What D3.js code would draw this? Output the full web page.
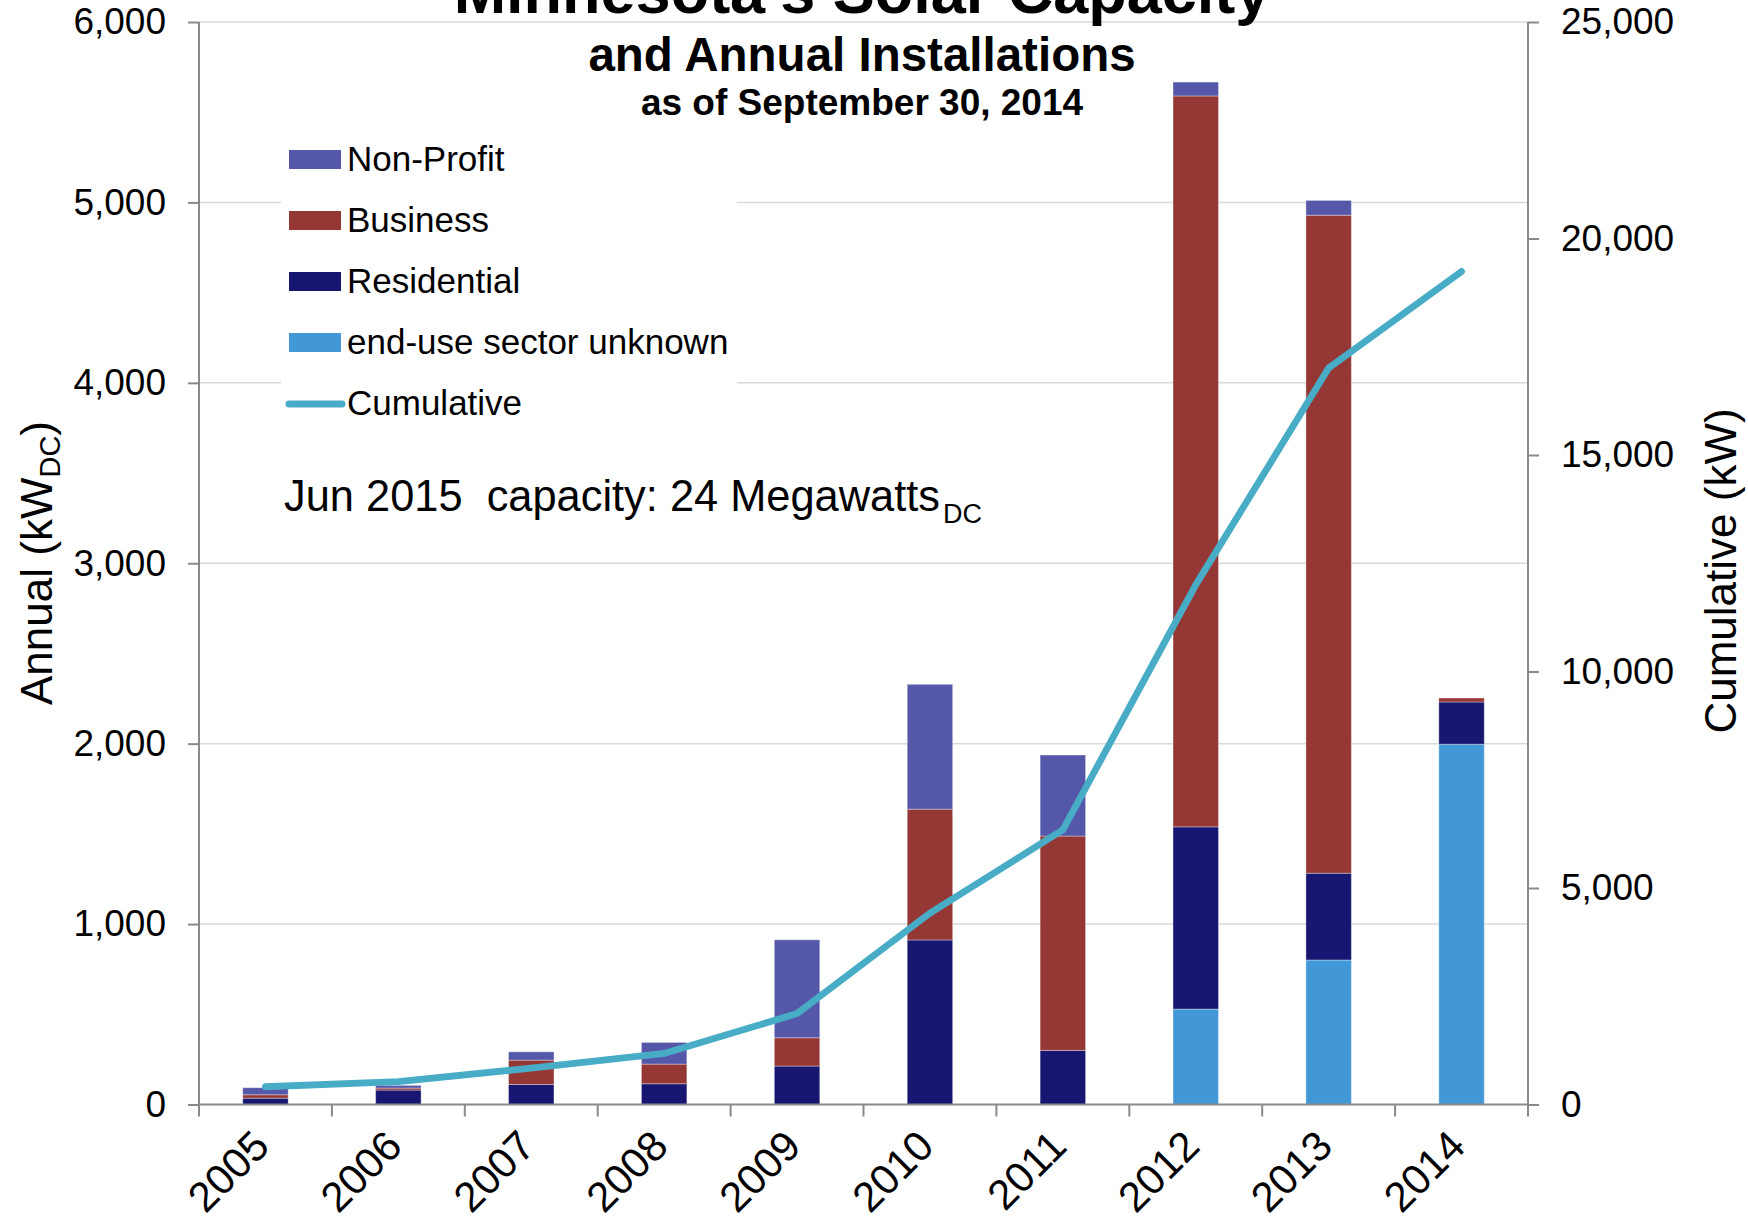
<!DOCTYPE html>
<html>
<head>
<meta charset="utf-8">
<script src="https://cdn.jsdelivr.net/npm/d3@7"></script>
<style>
  html, body { margin: 0; padding: 0; background: #fff; }
  svg { display: block; }
  text { font-family: "Liberation Sans", Arial, sans-serif; }
</style>
</head>
<body>
<svg id="chart" width="1748" height="1226"></svg>
<script>
// ---- data ----
const years = ["2005","2006","2007","2008","2009","2010","2011","2012","2013","2014"];
const unknownSector = [0, 0, 0, 0, 0, 0, 0, 529, 801, 1997];
const residential   = [35, 80, 111, 115, 213, 912, 300, 1010, 481, 234];
const business      = [19, 11, 135, 109, 157, 725, 1188, 4051, 3647, 22];
const nonProfit     = [39, 15, 46, 120, 543, 692, 449, 77, 82, 0];
const cumulative    = [410, 530, 840, 1180, 2100, 4420, 6340, 12000, 17010, 19240];
const leftTicks  = [0, 1000, 2000, 3000, 4000, 5000, 6000];
const rightTicks = [0, 5000, 10000, 15000, 20000, 25000];
const seriesKeys   = ["unknown", "residential", "business", "nonprofit"];
const seriesNames  = {nonprofit: "Non-Profit", business: "Business", residential: "Residential", unknown: "end-use sector unknown"};
const seriesColors = {nonprofit: "#5557A8", business: "#953735", residential: "#171670", unknown: "#4298D7"};
const lineColor = "#48ACC6";

const rows = years.map((y, i) => ({
  year: y, unknown: unknownSector[i], residential: residential[i],
  business: business[i], nonprofit: nonProfit[i], cum: cumulative[i]
}));

// ---- layout ----
const pLeft = 199, pRight = 1528, pTop = 22, pBottom = 1104.5;
const svg = d3.select("#chart");

const x = d3.scaleBand().domain(years).range([pLeft, pRight]).paddingInner(0.658).paddingOuter(0.329);
const yL = d3.scaleLinear().domain([0, 6000]).range([pBottom, pTop]);
const yR = d3.scaleLinear().domain([0, 25000]).range([pBottom, pTop]);

// gridlines
svg.append("g").selectAll("line").data(leftTicks.filter(d => d > 0)).join("line")
  .attr("x1", pLeft).attr("x2", pRight)
  .attr("y1", d => yL(d)).attr("y2", d => yL(d))
  .attr("stroke", "#d9d9d9").attr("stroke-width", 1.5);

// legend background (hides gridlines)
svg.append("rect").attr("x", 281).attr("y", 128).attr("width", 456).attr("height", 300).attr("fill", "#fff");

// stacked bars
const stack = d3.stack().keys(seriesKeys)(rows);
svg.append("g").selectAll("g").data(stack).join("g")
  .attr("fill", d => seriesColors[d.key])
  .selectAll("rect").data(d => d).join("rect")
  .attr("x", d => x(d.data.year))
  .attr("width", x.bandwidth())
  .attr("y", d => yL(d[1]))
  .attr("height", d => Math.max(0, yL(d[0]) - yL(d[1])))
  .attr("stroke", "rgba(255,255,255,0.35)").attr("stroke-width", d => (d[1] - d[0]) > 0 ? 1 : 0);

// cumulative line
const line = d3.line().x(d => x(d.year) + x.bandwidth() / 2).y(d => yR(d.cum));
svg.append("path").datum(rows).attr("d", line)
  .attr("fill", "none").attr("stroke", lineColor).attr("stroke-width", 6.8)
  .attr("stroke-linejoin", "round").attr("stroke-linecap", "round");

// axes
const axisColor = "#8a8a8a";
const leftAxis = svg.append("g").attr("transform", `translate(${pLeft},0)`)
  .call(d3.axisLeft(yL).tickValues(leftTicks).tickFormat(d3.format(",")).tickSize(11).tickPadding(22));
const rightAxis = svg.append("g").attr("transform", `translate(${pRight},0)`)
  .call(d3.axisRight(yR).tickValues(rightTicks).tickFormat(d3.format(",")).tickSize(11).tickPadding(22));
[leftAxis, rightAxis].forEach(a => {
  a.select(".domain").attr("stroke", axisColor).attr("stroke-width", 2).attr("d", `M0,${pTop}V${pBottom}`);
  a.selectAll(".tick line").attr("stroke", axisColor).attr("stroke-width", 2);
  a.selectAll(".tick text").attr("font-size", 37).attr("fill", "#000")
    .attr("font-family", "Liberation Sans, Arial, sans-serif");
});

// x axis line + boundary ticks
const xg = svg.append("g");
xg.append("line").attr("x1", pLeft).attr("x2", pRight).attr("y1", pBottom).attr("y2", pBottom)
  .attr("stroke", axisColor).attr("stroke-width", 2);
const boundaries = years.map(y => x(y) - x.step() * x.paddingInner() / 2).concat([pRight]);
xg.selectAll(".xt").data(boundaries).join("line").attr("class", "xt")
  .attr("x1", d => d).attr("x2", d => d).attr("y1", pBottom).attr("y2", pBottom + 12)
  .attr("stroke", axisColor).attr("stroke-width", 2);
xg.selectAll(".xl").data(years).join("text").attr("class", "xl")
  .attr("transform", d => `translate(${x(d) + x.bandwidth() / 2 + 6},${pBottom + 44}) rotate(-45)`)
  .attr("text-anchor", "end").attr("font-size", 42).text(d => d);

// titles
const cx = 862;
svg.append("text").attr("x", cx).attr("y", 13).attr("text-anchor", "middle")
  .attr("font-size", 63).attr("font-weight", "bold").text("Minnesota's Solar Capacity");
svg.append("text").attr("x", cx).attr("y", 71).attr("text-anchor", "middle")
  .attr("font-size", 47.5).attr("font-weight", "bold").text("and Annual Installations");
svg.append("text").attr("x", cx).attr("y", 115).attr("text-anchor", "middle")
  .attr("font-size", 37).attr("font-weight", "bold").text("as of September 30, 2014");

// axis titles
const lt = svg.append("text").attr("transform", "translate(52,563) rotate(-90)")
  .attr("text-anchor", "middle").attr("font-size", 44);
lt.append("tspan").text("Annual (kW");
lt.append("tspan").attr("font-size", 29).attr("dy", 8).text("DC");
lt.append("tspan").attr("dy", -8).text(")");
svg.append("text").attr("transform", "translate(1736,571) rotate(-90)")
  .attr("text-anchor", "middle").attr("font-size", 44).text("Cumulative (kW)");

// legend
const legendOrder = ["nonprofit", "business", "residential", "unknown"];
const lg = svg.append("g");
legendOrder.forEach((k, i) => {
  const yb = 171 + i * 61;
  lg.append("rect").attr("x", 289).attr("y", yb - 21).attr("width", 52).attr("height", 19).attr("fill", seriesColors[k]);
  lg.append("text").attr("x", 347).attr("y", yb).attr("font-size", 35).text(seriesNames[k]);
});
lg.append("line").attr("x1", 289).attr("x2", 342).attr("y1", 404).attr("y2", 404)
  .attr("stroke", lineColor).attr("stroke-width", 7).attr("stroke-linecap", "round");
lg.append("text").attr("x", 347).attr("y", 415).attr("font-size", 35).text("Cumulative");

// annotation
const ann = svg.append("text").attr("x", 284).attr("y", 511)
  .attr("font-family", "'Open Sans', sans-serif").attr("font-size", 45).style("white-space", "pre");
ann.append("tspan").attr("textLength", 656).attr("lengthAdjust", "spacingAndGlyphs")
  .text("Jun 2015  capacity: 24 Megawatts");
ann.append("tspan").attr("x", 943).attr("dy", 12).attr("font-size", 27).text("DC");
</script>
</body>
</html>
